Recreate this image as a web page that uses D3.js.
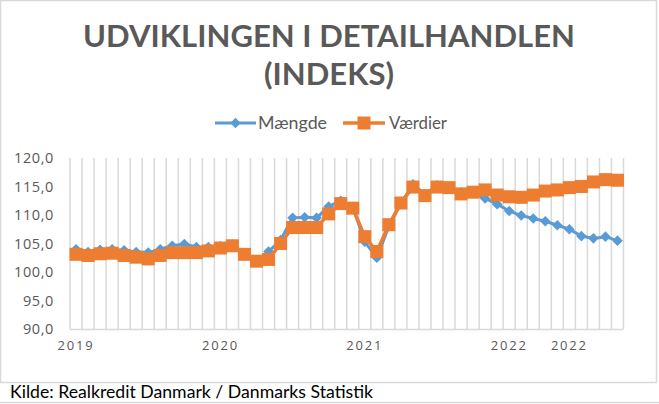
<!DOCTYPE html>
<html>
<head>
<meta charset="utf-8">
<script src="https://cdn.jsdelivr.net/npm/d3@7"></script>
<style>
  body { margin: 0; background: #fff; }
  svg { display: block; font-family: 'Open Sans', 'Noto Sans', sans-serif; }
</style>
</head>
<body>
<div class="chart-wrapper"></div>
<script>
// months jan 2019 - okt 2022
const months = d3.range(46).map(i => {
  const d = new Date(2019, i, 1)
  return d3.timeFormat('%Y-%m')(d)
})

const maengde = [104.0, 103.5, 103.9, 104.0, 103.8, 103.5, 103.4, 104.0, 104.6, 104.9, 104.4, 104.4,
  104.5, 104.8, 103.2, 102.0, 103.6, 105.6, 109.5, 109.6, 109.5, 111.5, 112.5, 111.4,
  105.3, 102.5, 108.0, 112.0, 115.4, 113.6, 115.2, 114.9, 114.0, 113.9, 112.9, 111.9,
  110.7, 109.9, 109.4, 108.9, 108.2, 107.5, 106.3, 105.9, 106.2, 105.5]

const vaerdier = [103.1, 102.9, 103.2, 103.3, 102.9, 102.6, 102.3, 102.9, 103.4, 103.4, 103.4, 103.7,
  104.2, 104.6, 103.1, 101.9, 102.2, 105.0, 107.8, 107.8, 107.8, 110.2, 112.0, 111.2,
  106.2, 103.6, 108.3, 112.1, 114.9, 113.4, 114.9, 114.8, 113.7, 114.0, 114.4, 113.5,
  113.2, 113.1, 113.5, 114.2, 114.4, 114.8, 115.0, 115.8, 116.2, 116.1]

const yTicks = [90, 95, 100, 105, 110, 115, 120]
const xTickMonths = ['2019-01', '2020-01', '2021-01', '2022-01', '2022-06']
const xTickLabels = ['2019', '2020', '2021', '2022', '2022']

const width = 659
const height = 404
const grey = '#595959'
const gridCol = '#d9d9d9'
const blue = '#5B9BD5'
const orange = '#ED7D31'

const svg = d3.select('.chart-wrapper')
  .append('svg')
  .attr('width', width)
  .attr('height', height)

// frame around chart area + source line
svg.append('rect')
  .attr('x', 0.5).attr('y', 0.5)
  .attr('width', 656).attr('height', 382)
  .style('fill', 'none')
  .style('stroke', gridCol)
  .style('stroke-width', 1.5)

svg.append('line')
  .attr('x1', 0).attr('x2', width)
  .attr('y1', 402.5).attr('y2', 402.5)
  .style('stroke', gridCol)
  .style('stroke-width', 1.5)

svg.append('text')
  .attr('x', 10).attr('y', 398)
  .attr('textLength', 363)
  .attr('lengthAdjust', 'spacingAndGlyphs')
  .style('font-size', '17px')
  .style('font-family', 'Lato, sans-serif')
  .style('fill', '#000')
  .text('Kilde: Realkredit Danmark / Danmarks Statistik')

// title
svg.append('text')
  .attr('x', 329).attr('y', 47)
  .attr('text-anchor', 'middle')
  .attr('textLength', 492)
  .attr('lengthAdjust', 'spacing')
  .style('font-size', '31px')
  .style('font-family', 'Lato, sans-serif')
  .style('font-weight', 'bold')
  .style('fill', grey)
  .text('UDVIKLINGEN I DETAILHANDLEN')

svg.append('text')
  .attr('x', 329).attr('y', 85)
  .attr('text-anchor', 'middle')
  .attr('textLength', 130)
  .attr('lengthAdjust', 'spacing')
  .style('font-size', '31px')
  .style('font-family', 'Lato, sans-serif')
  .style('font-weight', 'bold')
  .style('fill', grey)
  .text('(INDEKS)')

const x = d3.scaleBand().domain(months).range([70, 623.5]).padding(0)
const y = d3.scaleLinear().domain([90, 120]).range([329, 158])

const cx = m => x(m) + x.bandwidth() / 2

// vertical gridlines at category borders
svg.append('g')
  .selectAll('line')
  .data(months.concat(['end']))
  .enter()
  .append('line')
  .attr('x1', (d, i) => i < months.length ? x(d) : x.range()[1])
  .attr('x2', (d, i) => i < months.length ? x(d) : x.range()[1])
  .attr('y1', y(120))
  .attr('y2', y(90))
  .style('stroke', gridCol)
  .style('stroke-width', 1.5)

// axes
const yaxis = svg.append('g')
  .attr('transform', 'translate(54,0)')
  .call(d3.axisLeft(y)
    .tickValues(yTicks)
    .tickSize(0)
    .tickPadding(0)
    .tickFormat(d => d3.format('.1f')(d).replace('.', ',')))
yaxis.select('.domain').remove()
yaxis.selectAll('text')
  .style('font-size', '14.5px')
  .style('font-family', "'Open Sans', sans-serif")
  .style('fill', grey)
  .style('letter-spacing', '0.6px')

const xaxis = svg.append('g')
  .attr('transform', 'translate(0,' + y(90) + ')')
  .call(d3.axisBottom(x)
    .tickValues(xTickMonths)
    .tickSize(0)
    .tickPadding(12)
    .tickFormat(m => xTickLabels[xTickMonths.indexOf(m)]))
xaxis.select('.domain')
  .attr('d', 'M70,0.5H623.5')
  .style('stroke', gridCol)
  .style('stroke-width', 1.5)
xaxis.selectAll('text')
  .style('font-size', '13px')
  .style('font-family', "'Open Sans', sans-serif")
  .style('fill', grey)
  .style('letter-spacing', '1.8px')

// series
const lineM = d3.line()
  .x((d, i) => cx(months[i]))
  .y(d => y(d))

svg.append('path')
  .datum(maengde)
  .attr('d', lineM)
  .style('fill', 'none')
  .style('stroke', blue)
  .style('stroke-width', 3)

svg.append('g').selectAll('path')
  .data(maengde)
  .enter()
  .append('path')
  .attr('d', d3.symbol(d3.symbolSquare, 56))
  .attr('transform', (d, i) => 'translate(' + cx(months[i]) + ',' + y(d) + ') rotate(45)')
  .style('fill', blue)

svg.append('path')
  .datum(vaerdier)
  .attr('d', lineM)
  .style('fill', 'none')
  .style('stroke', orange)
  .style('stroke-width', 3.5)

svg.append('g').selectAll('rect')
  .data(vaerdier)
  .enter()
  .append('rect')
  .attr('x', (d, i) => cx(months[i]) - 6.5)
  .attr('y', d => y(d) - 6.5)
  .attr('width', 13)
  .attr('height', 13)
  .style('fill', orange)

// legend
const legend = svg.append('g').attr('transform', 'translate(0,123)')
legend.append('line')
  .attr('x1', 215).attr('x2', 256)
  .style('stroke', blue).style('stroke-width', 3)
legend.append('path')
  .attr('d', d3.symbol(d3.symbolSquare, 56))
  .attr('transform', 'translate(235.5,0) rotate(45)')
  .style('fill', blue)
legend.append('text')
  .attr('x', 258).attr('y', 5.5)
  .attr('textLength', 69)
  .attr('lengthAdjust', 'spacingAndGlyphs')
  .style('font-size', '17px')
  .style('font-family', 'Lato, sans-serif')
  .style('fill', grey)
  .text('Mængde')

legend.append('line')
  .attr('x1', 343).attr('x2', 385)
  .style('stroke', orange).style('stroke-width', 3.5)
legend.append('rect')
  .attr('x', 357.5).attr('y', -6.5)
  .attr('width', 13).attr('height', 13)
  .style('fill', orange)
legend.append('text')
  .attr('x', 389).attr('y', 5.5)
  .attr('textLength', 58)
  .attr('lengthAdjust', 'spacingAndGlyphs')
  .style('font-size', '17px')
  .style('font-family', 'Lato, sans-serif')
  .style('fill', grey)
  .text('Værdier')
</script>
</body>
</html>
